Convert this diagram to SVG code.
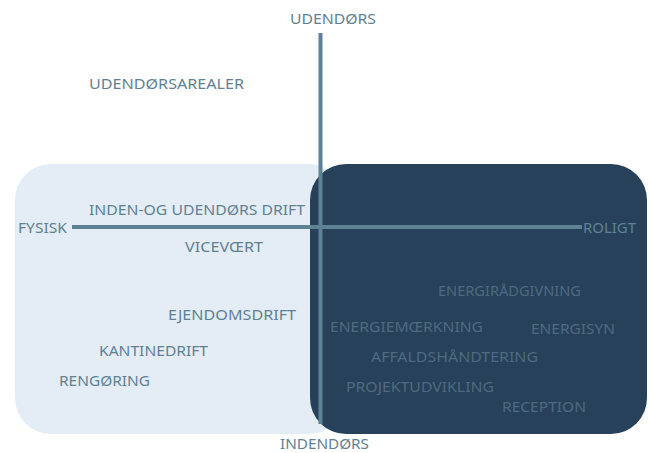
<svg xmlns="http://www.w3.org/2000/svg" width="649" height="453" viewBox="0 0 649 453">
<style>
  text { font-family: "Noto Sans", "Liberation Sans", sans-serif; font-size: 14px; }
  .lt { fill: #5f8194; }
  .dk { fill: #4d6a81; }
  .axis { stroke: #5f8194; stroke-width: 4; fill: none; }
</style>
<rect width="649" height="453" fill="#ffffff"/>
<g id="zone-fysisk">
  <rect x="15" y="164" width="330" height="270" rx="36" fill="#e4ecf6"/>
</g>
<g id="zone-roligt">
  <rect x="310" y="164" width="337" height="270" rx="36" fill="#27415a"/>
</g>
<g id="connectors">
  <line class="axis" x1="320.5" y1="33" x2="320.5" y2="424"/>
  <line class="axis" x1="72" y1="227" x2="582" y2="227"/>
</g>
<g id="axis-labels">
  <text class="lt" x="290" y="24" textLength="86" lengthAdjust="spacingAndGlyphs">UDENDØRS</text>
  <text class="lt" x="280" y="449" textLength="89" lengthAdjust="spacingAndGlyphs">INDENDØRS</text>
  <text class="lt" x="18" y="233" textLength="49" lengthAdjust="spacingAndGlyphs">FYSISK</text>
  <text class="lt" x="583" y="233" textLength="53" lengthAdjust="spacingAndGlyphs">ROLIGT</text>
</g>
<g id="node-udendorsarealer"><text class="lt" x="89" y="89" textLength="155" lengthAdjust="spacingAndGlyphs">UDENDØRSAREALER</text></g>
<g id="node-inden-og-udendors-drift"><text class="lt" x="89" y="215" textLength="216" lengthAdjust="spacingAndGlyphs">INDEN-OG UDENDØRS DRIFT</text></g>
<g id="node-vicevaert"><text class="lt" x="185" y="252" textLength="78" lengthAdjust="spacingAndGlyphs">VICEVŒRT</text></g>
<g id="node-ejendomsdrift"><text class="lt" x="168" y="320" textLength="128" lengthAdjust="spacingAndGlyphs">EJENDOMSDRIFT</text></g>
<g id="node-kantinedrift"><text class="lt" x="99" y="356" textLength="109" lengthAdjust="spacingAndGlyphs">KANTINEDRIFT</text></g>
<g id="node-rengoring"><text class="lt" x="59" y="386" textLength="91" lengthAdjust="spacingAndGlyphs">RENGØRING</text></g>
<g id="node-energiradgivning"><text class="dk" x="438" y="296" textLength="143" lengthAdjust="spacingAndGlyphs">ENERGIRÅDGIVNING</text></g>
<g id="node-energiemaerkning"><text class="dk" x="330" y="332" textLength="153" lengthAdjust="spacingAndGlyphs">ENERGIEMŒRKNING</text></g>
<g id="node-energisyn"><text class="dk" x="531" y="334" textLength="84" lengthAdjust="spacingAndGlyphs">ENERGISYN</text></g>
<g id="node-affaldshaandtering"><text class="dk" x="371" y="362" textLength="167" lengthAdjust="spacingAndGlyphs">AFFALDSHÅNDTERING</text></g>
<g id="node-projektudvikling"><text class="dk" x="346" y="392" textLength="148" lengthAdjust="spacingAndGlyphs">PROJEKTUDVIKLING</text></g>
<g id="node-reception"><text class="dk" x="502" y="412" textLength="84" lengthAdjust="spacingAndGlyphs">RECEPTION</text></g>
</svg>
